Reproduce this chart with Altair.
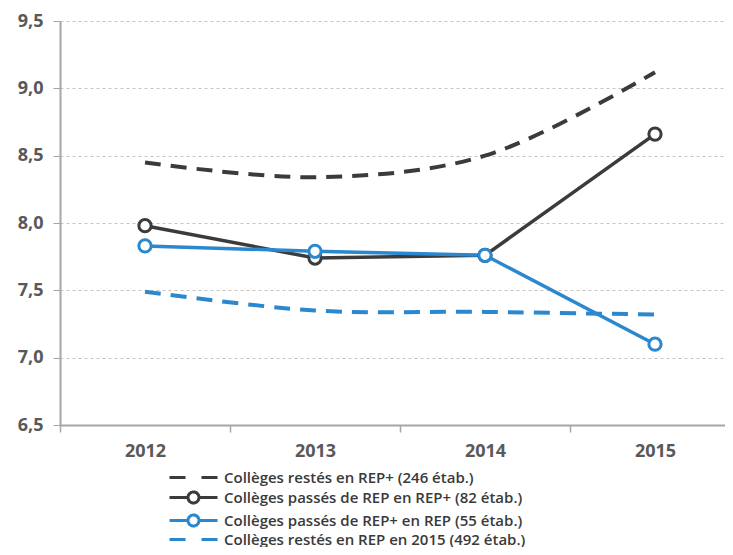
import altair as alt
import pandas as pd

years = ["2012", "2013", "2014", "2015"]
series = [
    "Collèges restés en REP+ (246 étab.)",
    "Collèges passés de REP en REP+ (82 étab.)",
    "Collèges passés de REP+ en REP (55 étab.)",
    "Collèges restés en REP en 2015 (492 étab.)",
]
rest_rep_plus = [8.45, 8.34, 8.50, 9.12]
rep_to_rep_plus = [7.98, 7.74, 7.76, 8.66]
rep_plus_to_rep = [7.83, 7.79, 7.76, 7.10]
rest_rep = [7.49, 7.35, 7.34, 7.32]

values = [rest_rep_plus, rep_to_rep_plus, rep_plus_to_rep, rest_rep]
colors = ["#3b3b3b", "#3b3b3b", "#2b88cf", "#2b88cf"]
dash_pattern = [16, 10]
dashes = [dash_pattern, [1, 0], [1, 0], dash_pattern]
is_dashed = [True, False, False, True]

rows = []
for s, vals in zip(series, values):
    for y, v in zip(years, vals):
        rows.append({"annee": y, "serie": s, "valeur": v})
df = pd.DataFrame(rows)

# legend symbol shapes (unit paths)
dash_path = "M-9.6,0H-3.2M3.2,0H9.6"
circ_path = "M-9.6,0H-2.2M2.2,0H9.6M-2.2,0A2.2,2.2 0 1,0 2.2,0A2.2,2.2 0 1,0 -2.2,0"
shapes = [dash_path, circ_path, circ_path, dash_path]

font = "Open Sans"

x_enc = alt.X(
    "annee:O",
    bandPosition=0.5,
    title=None,
    scale=alt.Scale(type="band", paddingInner=0, paddingOuter=0, range=[0, 680]),
    axis=alt.Axis(
        tickBand="extent",
        labelAngle=0,
        labelFont=font,
        labelFontSize=18,
        labelFontWeight="bold",
        labelColor="#595959",
        labelPadding=10,
        tickSize=7,
        tickColor="#a6a6a6",
        domainColor="#a6a6a6",
        domainWidth=2,
        tickWidth=1.5,
        grid=False,
    ),
)
y_enc = alt.Y(
    "valeur:Q",
    title=None,
    scale=alt.Scale(domain=[6.5, 9.5], nice=False, zero=False),
    axis=alt.Axis(
        values=[6.5, 7.0, 7.5, 8.0, 8.5, 9.0, 9.5],
        labelExpr="replace(format(datum.value, '.1f'), '.', ',')",
        labelFont=font,
        labelFontSize=18,
        labelFontWeight="bold",
        labelColor="#595959",
        labelPadding=10,
        tickSize=7,
        tickColor="#a6a6a6",
        domainColor="#a6a6a6",
        domainWidth=2,
        gridColor="#c4c4c4",
        gridDash=[3, 3],
        gridWidth=1,
    ),
)

base = alt.Chart(df)

layers = []
# draw order: dashed blue, dashed black, then solid black, solid blue
order = [3, 0, 1, 2]
for i in order:
    s = series[i]
    sub = base.transform_filter(alt.datum.serie == s)
    if is_dashed[i]:
        layers.append(
            sub.mark_line(
                interpolate="catmull-rom", strokeWidth=4, color=colors[i], strokeDash=dash_pattern
            ).encode(x=x_enc, y=y_enc)
        )
    else:
        layers.append(
            sub.mark_line(strokeWidth=3.5, color=colors[i]).encode(x=x_enc, y=y_enc)
        )
for i in order:
    if not is_dashed[i]:
        s = series[i]
        layers.append(
            base.transform_filter(alt.datum.serie == s)
            .mark_point(shape="circle", filled=False, size=150, strokeWidth=3,
                        color=colors[i], fill="white", fillOpacity=1, opacity=1)
            .encode(x=x_enc, y=y_enc)
        )

stroke_scale = alt.Scale(domain=series, range=colors)
dash_scale = alt.Scale(domain=series, range=dashes)
shape_scale = alt.Scale(domain=series, range=shapes)

legend_layer = base.mark_point(strokeWidth=3, size=25).encode(
    x=x_enc,
    y=y_enc,
    stroke=alt.Stroke("serie:N", scale=stroke_scale, title=None),
    strokeDash=alt.StrokeDash("serie:N", scale=dash_scale, title=None),
    shape=alt.Shape("serie:N", scale=shape_scale, title=None),
    fill=alt.value("white"),
    opacity=alt.value(0),
)
layers.append(legend_layer)

chart = alt.layer(*layers).properties(
    width=665,
    height=404,
    autosize=alt.AutoSizeParams(type="none"),
    padding={"left": 52, "top": 13, "right": 0, "bottom": 122},
).configure_view(stroke=None).configure_legend(
    orient="none",
    legendX=106,
    legendY=449,
    padding=0,
    symbolSize=25,
    symbolStrokeWidth=3,
    symbolOpacity=1,
    symbolOffset=20,
    labelOffset=23,
    labelFont=font,
    labelFontSize=15,
    labelFontWeight=600,
    labelColor="#3a3a3a",
    labelLimit=500,
    rowPadding=0,
)

chart.save("out.html", embed_options={"renderer": "svg", "actions": False})
